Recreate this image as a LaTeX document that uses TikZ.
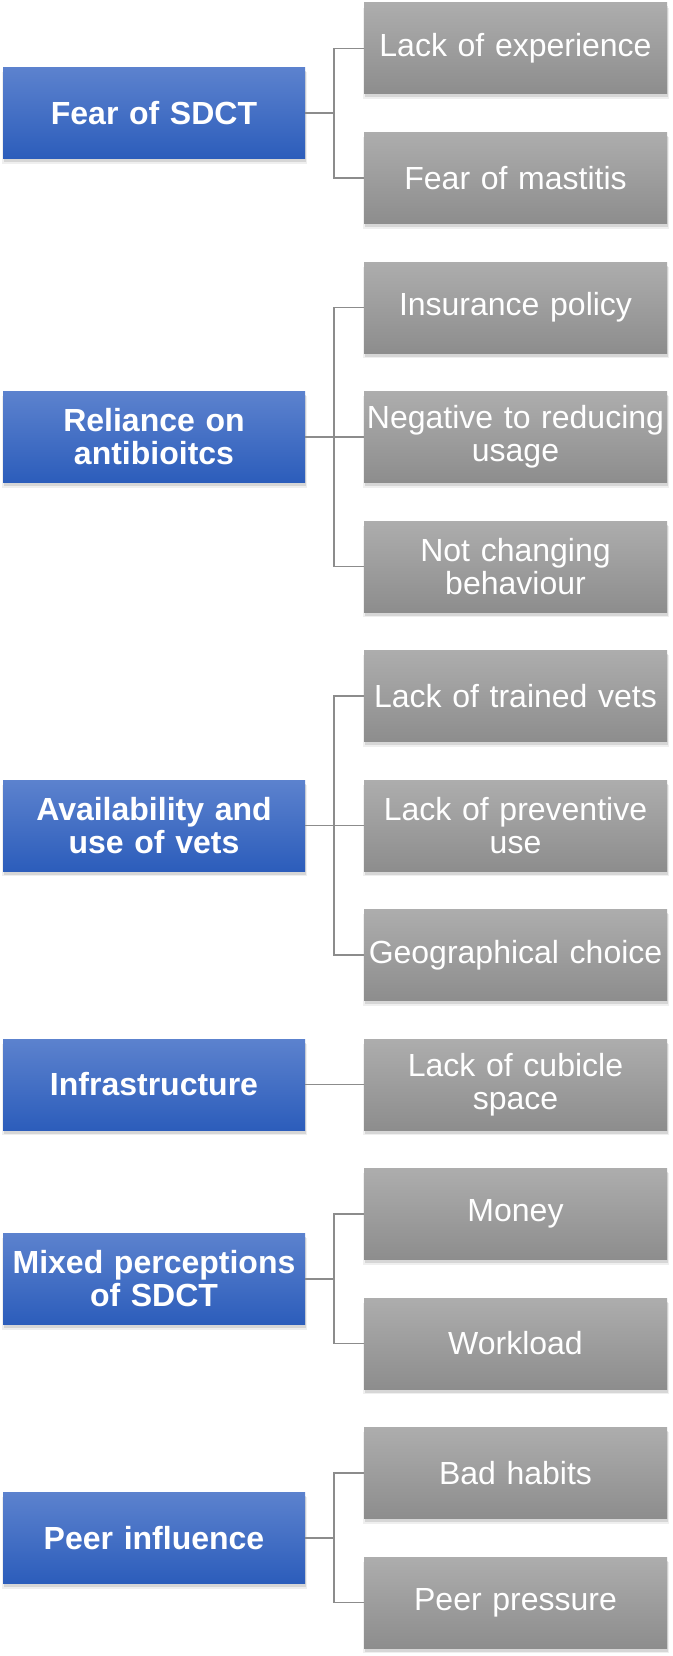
\documentclass[tikz,border=0pt]{standalone}
\usepackage{fontspec}
\setmainfont{Liberation Sans}
\usetikzlibrary{shadows}
\definecolor{bluetop}{RGB}{92,130,206}
\definecolor{bluebot}{RGB}{44,93,187}
\definecolor{graytop}{RGB}{173,173,173}
\definecolor{graybot}{RGB}{141,141,141}
\definecolor{connc}{RGB}{140,140,140}
\begin{document}
\begin{tikzpicture}[x=1pt,y=-1pt,
  softshadow/.style={
    drop shadow={shadow xshift=0.5pt, shadow yshift=-5pt, opacity=0.12, shadow scale=1.008},
    drop shadow={shadow xshift=0.5pt, shadow yshift=-3.5pt, opacity=0.22}},
  catbox/.style={minimum width=302pt, minimum height=91pt, text width=300pt,
    inner sep=0pt, align=center, top color=bluetop, bottom color=bluebot,
    text=white, font=\fontsize{32}{33}\selectfont\bfseries, softshadow},
  subbox/.style={minimum width=303pt, minimum height=91pt, text width=301pt,
    inner sep=0pt, align=center, top color=graytop, bottom color=graybot,
    text=white, font=\fontsize{32}{33}\selectfont, softshadow},
  conn/.style={draw=connc, line width=1.6pt}]
\fill[white] (0,0) rectangle (672,1656);
\useasboundingbox (0,0) rectangle (672,1656);

% sub boxes
\node[subbox] (s1)  at (515.5,48.5)   {Lack of experience};
\node[subbox] (s2)  at (515.5,178)    {Fear of mastitis};
\node[subbox] (s3)  at (515.5,307.5)  {Insurance policy};
\node[subbox] (s4)  at (515.5,437)    {Negative to reducing\\usage};
\node[subbox] (s5)  at (515.5,566.5)  {Not changing\\behaviour};
\node[subbox] (s6)  at (515.5,696)    {Lack of trained vets};
\node[subbox] (s7)  at (515.5,825.5)  {Lack of preventive\\use};
\node[subbox] (s8)  at (515.5,955)    {Geographical choice};
\node[subbox] (s9)  at (515.5,1084.5) {Lack of cubicle\\space};
\node[subbox] (s10) at (515.5,1214)   {Money};
\node[subbox] (s11) at (515.5,1343.5) {Workload};
\node[subbox] (s12) at (515.5,1473)   {Bad habits};
\node[subbox] (s13) at (515.5,1602.5) {Peer pressure};

% category boxes
\node[catbox] (c1) at (154,113.25)  {Fear of SDCT};
\node[catbox] (c2) at (154,437)     {Reliance on\\antibioitcs};
\node[catbox] (c3) at (154,825.5)   {Availability and\\use of vets};
\node[catbox] (c4) at (154,1084.5)  {Infrastructure};
\node[catbox] (c5) at (154,1278.75) {Mixed perceptions\\of SDCT};
\node[catbox] (c6) at (154,1537.75) {Peer influence};

% connectors
\foreach \c/\s in {c1/s1,c1/s2,c2/s3,c2/s4,c2/s5,c3/s6,c3/s7,c3/s8,c5/s10,c5/s11,c6/s12,c6/s13}
  \draw[conn] (\c.east) -- ++(29,0) |- (\s.west);
\draw[conn] (c4.east) -- (s9.west);
\end{tikzpicture}
\end{document}
